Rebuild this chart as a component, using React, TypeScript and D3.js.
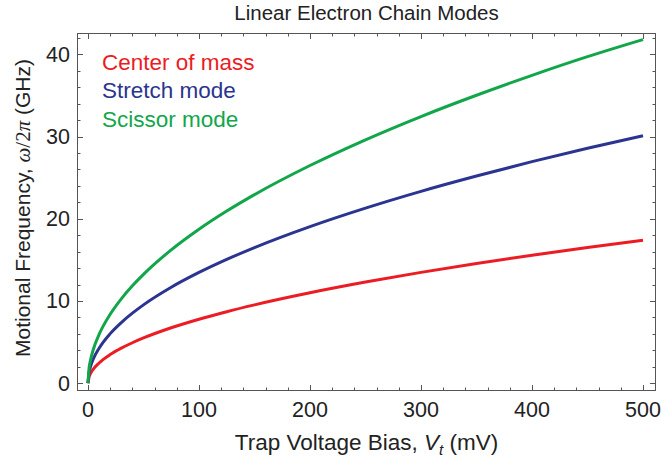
import React from "react";
import * as d3 from "d3";

// Trap voltage bias samples (mV)
const voltages = [0, 1, 2, 5, 10, 20, 30, 40, 50, 75, 100, 125, 150, 200, 250, 300, 350, 400, 450, 500];
// Mode frequencies ω/2π (GHz)
const centerOfMass = [0, 0.78, 1.1, 1.74, 2.46, 3.48, 4.26, 4.92, 5.5, 6.74, 7.78, 8.7, 9.53, 11.0, 12.3, 13.48, 14.56, 15.56, 16.5, 17.4];
const stretchMode = [0, 1.35, 1.9, 3.01, 4.26, 6.03, 7.38, 8.52, 9.53, 11.67, 13.47, 15.06, 16.5, 19.05, 21.3, 23.34, 25.2, 26.95, 28.58, 30.1];
const scissorMode = [0, 1.87, 2.65, 4.19, 5.93, 8.38, 10.26, 11.85, 13.24, 16.22, 18.73, 20.94, 22.94, 26.48, 29.61, 32.44, 35.03, 37.45, 39.72, 41.8];

const seriesNames = ["Center of mass", "Stretch mode", "Scissor mode"];
const seriesColors = ["#ec1c24", "#2b3490", "#12a64b"];
const xTicks = [0, 100, 200, 300, 400, 500];
const yTicks = [0, 10, 20, 30, 40];

const W = 662;
const H = 464;
const frame = { left: 77, right: 656, top: 33, bottom: 391 };

export default function App() {
  const x = d3.scaleLinear().domain([-9.9, 511.7]).range([frame.left, frame.right]);
  const y = d3.scaleLinear().domain([-0.95, 42.6]).range([frame.bottom, frame.top]);

  const series = [centerOfMass, stretchMode, scissorMode];
  const line = d3
    .line<[number, number]>()
    .x((d) => x(d[0]))
    .y((d) => y(d[1]))
    .curve(d3.curveMonotoneX);

  const xMinor = d3.range(0, 501, 20);
  const yMinor = d3.range(0, 43, 2);
  const axisColor = "#555";
  const font = "'Liberation Sans', Arial, Helvetica, sans-serif";
  const serif = "'Liberation Serif', 'Times New Roman', serif";

  return (
    <svg width={W} height={H} style={{ position: "absolute", left: 0, top: 0 }}>
      <rect width={W} height={H} fill="#fff" />
      <defs>
        <clipPath id="plotClip">
          <rect x={frame.left} y={frame.top} width={frame.right - frame.left} height={frame.bottom - frame.top} />
        </clipPath>
      </defs>
      <g clipPath="url(#plotClip)">
        {series.map((s, i) => (
          <path
            key={i}
            d={line(voltages.map((v, j) => [v, s[j]]))!}
            fill="none"
            stroke={seriesColors[i]}
            strokeWidth={3}
            strokeLinejoin="round"
          />
        ))}
      </g>

      {/* ticks on all four sides, pointing inward */}
      <g stroke={axisColor} strokeWidth={1}>
        {xMinor.map((v) => {
          const len = v % 100 === 0 ? 6 : 3.5;
          const px = Math.round(x(v)) + 0.5;
          return (
            <g key={"x" + v}>
              <line x1={px} x2={px} y1={frame.bottom} y2={frame.bottom - len} />
              <line x1={px} x2={px} y1={frame.top} y2={frame.top + len} />
            </g>
          );
        })}
        {yMinor.map((v) => {
          const len = v % 10 === 0 ? 6 : 3.5;
          const py = Math.round(y(v)) + 0.5;
          return (
            <g key={"y" + v}>
              <line x1={frame.left} x2={frame.left + len} y1={py} y2={py} />
              <line x1={frame.right} x2={frame.right - len} y1={py} y2={py} />
            </g>
          );
        })}
        <rect
          x={frame.left + 0.5}
          y={frame.top + 0.5}
          width={frame.right - frame.left - 1}
          height={frame.bottom - frame.top - 1}
          fill="none"
        />
      </g>

      {/* tick labels */}
      <g fontFamily={font} fontSize={21.5} fill="#222">
        {xTicks.map((v) => (
          <text key={"xl" + v} x={x(v)} y={417} textAnchor="middle">
            {v}
          </text>
        ))}
        {yTicks.map((v) => (
          <text key={"yl" + v} x={70} y={y(v) + 7.5} textAnchor="end">
            {v}
          </text>
        ))}
      </g>

      {/* title */}
      <text x={(frame.left + frame.right) / 2} y={20} textAnchor="middle" fontFamily={font} fontSize={20.5} fill="#222">
        Linear Electron Chain Modes
      </text>

      {/* axis titles */}
      <text x={(frame.left + frame.right) / 2} y={450} textAnchor="middle" fontFamily={font} fontSize={22.5} fill="#222">
        Trap Voltage Bias,{" "}
        <tspan fontStyle="italic">V</tspan>
        <tspan fontStyle="italic" fontSize={15} dy={5}>t</tspan>
        <tspan dy={-5}> (mV)</tspan>
      </text>
      <text
        transform={`translate(30, 208) rotate(-90)`}
        textAnchor="middle"
        fontFamily={font}
        fontSize={21}
        fill="#222"
      >
        Motional Frequency,{" "}
        <tspan fontFamily={serif} fontStyle="italic">ω</tspan>
        <tspan fontFamily={serif}>/2</tspan>
        <tspan fontFamily={serif} fontStyle="italic">π</tspan> (GHz)
      </text>

      {/* legend */}
      <g fontFamily={font} fontSize={22.5}>
        {seriesNames.map((n, i) => (
          <text key={n} x={102} y={70 + i * 28.3} fill={seriesColors[i]}>
            {n}
          </text>
        ))}
      </g>
    </svg>
  );
}
